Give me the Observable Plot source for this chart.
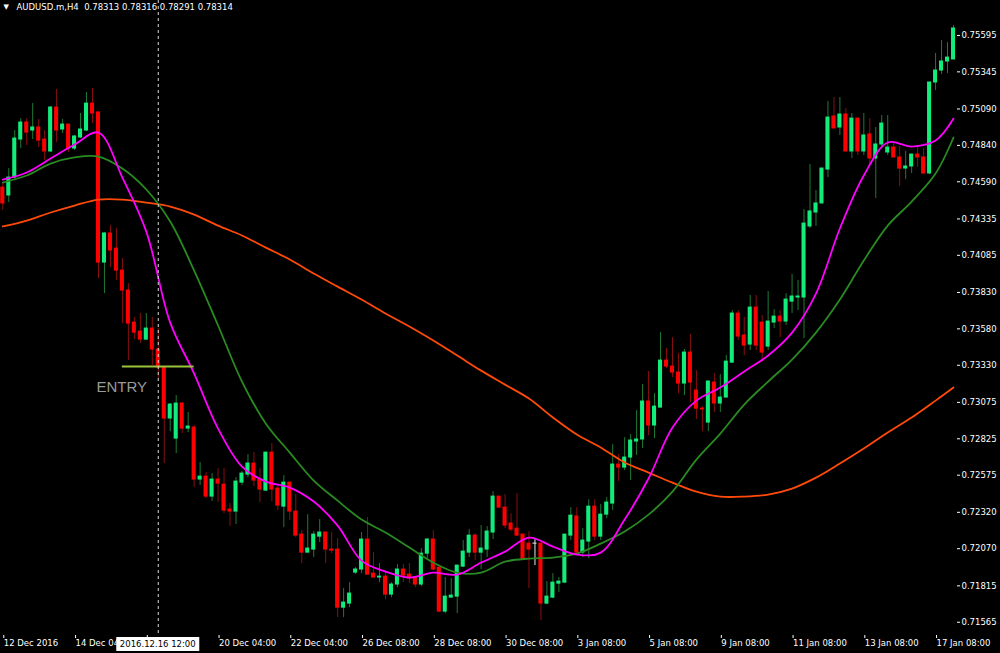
<!DOCTYPE html>
<html><head><meta charset="utf-8">
<script src="https://cdn.jsdelivr.net/npm/d3@7"></script>
<script src="https://cdn.jsdelivr.net/npm/@observablehq/plot@0.6"></script>
<style>
html,body{margin:0;padding:0;background:#000;}
#chart{width:1000px;height:653px;overflow:hidden;}
</style></head><body><div id="chart"></div>
<script>
const openP = [0.74550,0.74496,0.74619,0.74880,0.74997,0.74942,0.74963,0.74880,0.74798,0.75100,
0.74949,0.74983,0.74818,0.74894,0.74942,0.75127,0.75066,0.74035,0.74235,0.74131,
0.73980,0.73843,0.73623,0.73561,0.73506,0.73582,0.73438,0.73314,0.72964,0.72826,
0.73067,0.72895,0.72902,0.72545,0.72565,0.72428,0.72545,0.72510,0.72339,0.72325,
0.72524,0.72579,0.72655,0.72545,0.72469,0.72730,0.72483,0.72359,0.72524,0.72325,
0.72167,0.72043,0.72064,0.72153,0.72181,0.72064,0.72064,0.71665,0.71693,0.71906,
0.71927,0.72133,0.71899,0.71872,0.71878,0.71755,0.71824,0.71927,0.71892,0.71872,
0.71824,0.72036,0.72133,0.71940,0.71638,0.71734,0.71741,0.71947,0.72043,0.72160,
0.72043,0.72064,0.72181,0.72428,0.72352,0.72243,0.72208,0.72167,0.72105,0.72105,
0.72105,0.71693,0.71734,0.71830,0.71837,0.72160,0.72291,0.72043,0.72119,0.72359,
0.72153,0.72304,0.72380,0.72648,0.72627,0.72696,0.72806,0.72820,0.73081,0.72916,
0.73039,0.73362,0.73321,0.73280,0.73204,0.73417,0.73156,0.73032,0.72936,0.73211,
0.73067,0.73108,0.73348,0.73685,0.73534,0.73472,0.73726,0.73623,0.73458,0.73623,
0.73664,0.73630,0.73767,0.73795,0.73795,0.74283,0.74379,0.74441,0.74674,0.75038,
0.74963,0.75052,0.74798,0.75024,0.74798,0.74915,0.74750,0.74846,0.74791,0.74825,
0.74757,0.74681,0.74695,0.74777,0.74757,0.74647,0.75272,0.75354,0.75416,0.75430];
const highP = [0.74578,0.74681,0.74942,0.75024,0.75024,0.75127,0.75018,0.74942,0.75107,0.75224,
0.75018,0.74983,0.74908,0.75059,0.75203,0.75231,0.75073,0.74241,0.74289,0.74269,
0.74063,0.73891,0.73658,0.73685,0.73685,0.73658,0.73582,0.73321,0.73067,0.73122,
0.73074,0.73005,0.72916,0.72662,0.72593,0.72586,0.72620,0.72620,0.72380,0.72558,
0.72600,0.72716,0.72730,0.72620,0.72730,0.72792,0.72504,0.72572,0.72524,0.72442,
0.72194,0.72304,0.72188,0.72270,0.72181,0.72181,0.72140,0.71796,0.71837,0.71940,
0.72181,0.72284,0.72043,0.71968,0.71906,0.71837,0.71961,0.71961,0.71968,0.71878,
0.72071,0.72140,0.72194,0.71940,0.71872,0.71865,0.71954,0.72126,0.72201,0.72174,
0.72229,0.72222,0.72462,0.72428,0.72442,0.72311,0.72449,0.72167,0.72188,0.72140,
0.72105,0.71844,0.71899,0.71872,0.72167,0.72352,0.72352,0.72208,0.72407,0.72407,
0.72373,0.72421,0.72785,0.72716,0.72833,0.72854,0.73019,0.73197,0.73287,0.73135,
0.73554,0.73445,0.73520,0.73410,0.73438,0.73541,0.73293,0.73046,0.73225,0.73273,
0.73266,0.73397,0.73706,0.73706,0.73658,0.73809,0.73809,0.73671,0.73836,0.73712,
0.73706,0.73822,0.73953,0.73912,0.74399,0.74708,0.74530,0.74681,0.75141,0.75169,
0.75169,0.75093,0.75059,0.75024,0.75059,0.75024,0.74963,0.75045,0.75045,0.74853,
0.74832,0.74798,0.74777,0.74832,0.74818,0.75272,0.75471,0.75560,0.75546,0.75663];
const lowP = [0.74393,0.74447,0.74599,0.74818,0.74839,0.74880,0.74825,0.74736,0.74791,0.74860,
0.74921,0.74791,0.74805,0.74887,0.74935,0.74990,0.73925,0.73822,0.74001,0.73912,
0.73616,0.73362,0.73506,0.73479,0.73500,0.73328,0.73238,0.72655,0.72874,0.72723,
0.72861,0.72868,0.72490,0.72504,0.72414,0.72394,0.72387,0.72311,0.72222,0.72236,
0.72504,0.72558,0.72497,0.72387,0.72462,0.72394,0.72332,0.72215,0.72263,0.72146,
0.71968,0.72043,0.72009,0.72112,0.71968,0.72036,0.71597,0.71597,0.71665,0.71892,
0.71899,0.71892,0.71872,0.71837,0.71720,0.71734,0.71803,0.71837,0.71830,0.71803,
0.71810,0.72002,0.71920,0.71631,0.71624,0.71734,0.71624,0.71940,0.72009,0.71988,
0.71927,0.72009,0.72133,0.72352,0.72208,0.72188,0.72153,0.71995,0.71796,0.71954,
0.71576,0.71686,0.71727,0.71769,0.71830,0.72126,0.72036,0.72009,0.72002,0.72126,
0.72126,0.72277,0.72332,0.72531,0.72607,0.72538,0.72710,0.72758,0.72847,0.72826,
0.73039,0.73307,0.73245,0.73135,0.73122,0.73074,0.72957,0.72874,0.72874,0.73005,
0.73005,0.73108,0.73342,0.73500,0.73397,0.73431,0.73431,0.73348,0.73431,0.73582,
0.73520,0.73603,0.73685,0.73706,0.73513,0.74269,0.74283,0.74441,0.74619,0.74956,
0.74908,0.74798,0.74750,0.74770,0.74770,0.74708,0.74475,0.74818,0.74770,0.74757,
0.74557,0.74605,0.74647,0.74688,0.74640,0.74640,0.75217,0.75327,0.75334,0.75430];
const closeP = [0.74441,0.74619,0.74887,0.74997,0.74928,0.74963,0.74873,0.74798,0.75100,0.74942,
0.74983,0.74818,0.74901,0.74949,0.75127,0.75059,0.74035,0.74235,0.74118,0.73980,
0.73843,0.73616,0.73554,0.73506,0.73582,0.73438,0.73314,0.72964,0.73060,0.73067,
0.72895,0.72909,0.72545,0.72565,0.72428,0.72545,0.72517,0.72332,0.72325,0.72531,
0.72586,0.72655,0.72538,0.72476,0.72730,0.72476,0.72366,0.72524,0.72325,0.72160,
0.72043,0.72071,0.72167,0.72181,0.72064,0.72057,0.71665,0.71700,0.71762,0.71927,
0.72133,0.71892,0.71872,0.71878,0.71755,0.71824,0.71927,0.71885,0.71865,0.71824,
0.72036,0.72133,0.71927,0.71638,0.71741,0.71748,0.71954,0.72050,0.72160,0.72043,
0.72071,0.72188,0.72428,0.72352,0.72229,0.72201,0.72160,0.71995,0.72064,0.72105,
0.71693,0.71741,0.71837,0.71844,0.72167,0.72297,0.72043,0.72126,0.72359,0.72153,
0.72304,0.72387,0.72648,0.72627,0.72696,0.72813,0.72820,0.73081,0.72916,0.73046,
0.73362,0.73321,0.73280,0.73204,0.73417,0.73211,0.73032,0.73026,0.73218,0.73067,
0.73108,0.73355,0.73685,0.73527,0.73465,0.73726,0.73465,0.73417,0.73630,0.73664,
0.73630,0.73781,0.73802,0.73802,0.74303,0.74386,0.74441,0.74681,0.75031,0.74956,
0.75052,0.74798,0.75024,0.74798,0.74908,0.74750,0.74846,0.74990,0.74825,0.74757,
0.74681,0.74695,0.74777,0.74757,0.74647,0.75272,0.75354,0.75416,0.75443,0.75643];

const maIdx = [0,4,8,12,16,20,24,28,32,36,40,44,48,52,56,60,64,68,72,76,80,84,88,92,96,100,104,108,112,116,120,124,128,132,136,140,144,148,152,156,159];
const maFast = [0.74605,0.74654,0.74750,0.74846,0.74928,0.74619,0.74248,0.73623,0.73273,0.72895,0.72634,0.72531,0.72490,0.72394,0.72229,0.71988,0.71913,0.71872,0.71906,0.71892,0.71975,0.72050,0.72146,0.72085,0.72030,0.72043,0.72270,0.72552,0.72902,0.73087,0.73177,0.73287,0.73397,0.73554,0.73822,0.74269,0.74633,0.74860,0.74832,0.74873,0.75024];
const maMid = [0.74585,0.74633,0.74715,0.74757,0.74763,0.74681,0.74537,0.74317,0.73980,0.73603,0.73218,0.72929,0.72730,0.72538,0.72400,0.72270,0.72181,0.72078,0.71975,0.71906,0.71906,0.71981,0.72002,0.72009,0.72036,0.72105,0.72188,0.72304,0.72462,0.72682,0.72861,0.73060,0.73218,0.73369,0.73554,0.73781,0.74049,0.74289,0.74454,0.74647,0.74894];
const maSlow = [0.74283,0.74324,0.74379,0.74427,0.74468,0.74468,0.74447,0.74420,0.74365,0.74289,0.74221,0.74138,0.74056,0.73960,0.73870,0.73781,0.73685,0.73596,0.73500,0.73397,0.73293,0.73197,0.73101,0.72971,0.72854,0.72765,0.72662,0.72593,0.72524,0.72462,0.72428,0.72428,0.72442,0.72483,0.72558,0.72655,0.72758,0.72868,0.72971,0.73087,0.73177];

const yTicks = [0.75595,0.75345,0.75090,0.74840,0.74590,0.74335,0.74085,0.73830,0.73580,0.73330,0.73075,0.72825,0.72575,0.72320,0.72070,0.71815,0.71565];
const xTickIdx = [0,12,24,36,48,60,72,84,96,108,120,132,144,156];
// the 14 Dec label is cut, and the 16 Dec label hidden, by the crosshair time box
const xTickLabels = ["12 Dec 2016","14 Dec 04","","20 Dec 04:00","22 Dec 04:00","26 Dec 08:00","28 Dec 08:00","30 Dec 08:00","3 Jan 08:00","5 Jan 08:00","9 Jan 08:00","11 Jan 08:00","13 Jan 08:00","17 Jan 08:00"];

const entryLevel = 0.73321, entryFrom = 20, entryTo = 32;
const entryText = [{i: 19.9, p: 0.73176, t: "ENTRY"}];
const crossIdx = 26, crossLabel = "2016.12.16 12:00";
const headerText = "AUDUSD.m,H4  0.78313 0.78316 0.78291 0.78314";

const candles = openP.map((o, i) => {
  const c = closeP[i];
  return {i, o, h: highP[i], l: lowP[i], c, dir: c > o ? "up" : c < o ? "down" : "doji"};
});
const bodyColor = {up: "#12ec7a", down: "#ff0000", doji: "#e8e8e8"};
const wickColor = {up: "#1f7a36", down: "#8a0f0f", doji: "#e8e8e8"};
const maRows = (vals) => maIdx.map((i, k) => ({i, p: vals[k]}));

const font = "'DejaVu Sans', sans-serif";
const chart = Plot.plot({
  width: 1000, height: 653,
  marginLeft: 0, marginRight: 44, marginTop: 0, marginBottom: 18,
  style: {background: "#000", color: "#ffffff", fontFamily: font, fontSize: "8.5px", overflow: "visible"},
  x: {type: "linear", domain: [-0.385, 159.5]},
  y: {domain: [0.71474, 0.75835]},
  marks: [
    Plot.ruleX(candles, {x: "i", y1: "l", y2: "h", stroke: d => wickColor[d.dir], strokeWidth: 1}),
    Plot.rect(candles, {x1: d => d.i - 0.34, x2: d => d.i + 0.34, y1: "o", y2: "c", fill: d => bodyColor[d.dir], insetTop: -0.5, insetBottom: -0.5}),
    Plot.line(maRows(maSlow), {x: "i", y: "p", stroke: "#ff4a0a", strokeWidth: 1.8, curve: "catmull-rom"}),
    Plot.line(maRows(maMid), {x: "i", y: "p", stroke: "#2a8a22", strokeWidth: 1.8, curve: "catmull-rom"}),
    Plot.line(maRows(maFast), {x: "i", y: "p", stroke: "#ff00ff", strokeWidth: 1.8, curve: "catmull-rom"}),
    Plot.ruleY([entryLevel], {x1: entryFrom, x2: entryTo, stroke: "#9cc43a", strokeWidth: 2}),
    Plot.text(entryText, {x: "i", y: "p", text: "t", fill: "#9a9a9a", fontSize: 15, fontFamily: "'Liberation Sans', Arial, sans-serif"}),
    Plot.ruleX([crossIdx], {stroke: "#d8d8d8", strokeDasharray: "3,3", strokeWidth: 1}),
    Plot.axisY({anchor: "right", ticks: yTicks, tickFormat: d3.format(".5f"), tickSize: 3, tickPadding: 2, line: true, label: null}),
    Plot.axisX({anchor: "bottom", ticks: xTickIdx, tickFormat: d => xTickLabels[xTickIdx.indexOf(d)], tickSize: 3, tickPadding: 1, textAnchor: "start", dx: 1, line: true, label: null}),
    Plot.text([headerText], {frameAnchor: "top-left", dx: 16, dy: 3, fill: "#ffffff", textAnchor: "start", lineAnchor: "top"}),
    Plot.text(["\u25BC"], {frameAnchor: "top-left", dx: 3, dy: 4, fill: "#ffffff", textAnchor: "start", lineAnchor: "top", fontSize: 7})
  ]
});
document.getElementById("chart").appendChild(chart);

// crosshair time label box on the x axis
const svg = d3.select(chart);
const cx = chart.scale("x").apply(crossIdx);
const axisY0 = 653 - 18;
const g = svg.append("g");
g.append("rect").attr("x", cx - 41.5).attr("y", axisY0 + 2).attr("width", 83).attr("height", 14).attr("fill", "#ffffff");
g.append("text").attr("x", cx).attr("y", axisY0 + 9).attr("dy", "0.35em").attr("text-anchor", "middle")
  .attr("fill", "#000").attr("font-family", font).attr("font-size", "8.5px").text(crossLabel);
</script>
</body></html>
